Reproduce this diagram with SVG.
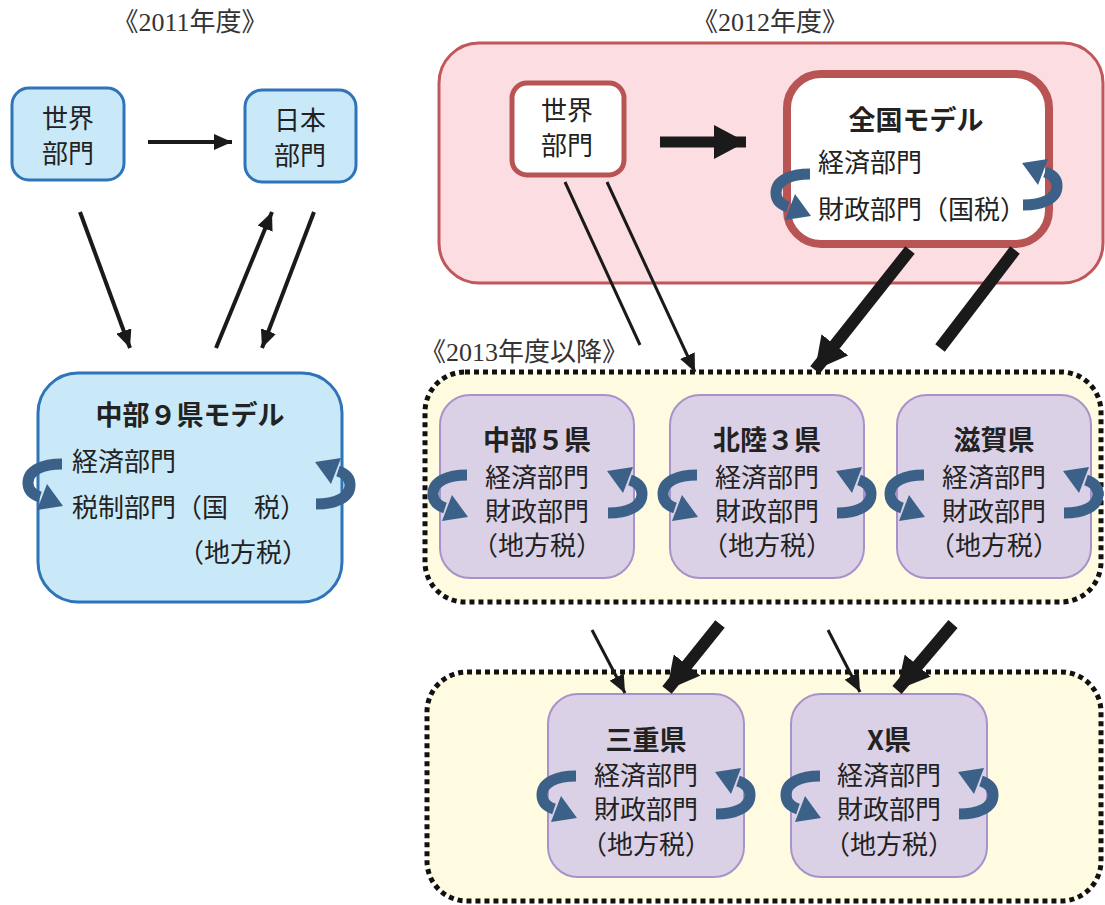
<svg xmlns="http://www.w3.org/2000/svg" xmlns:xlink="http://www.w3.org/1999/xlink" width="1105" height="905" viewBox="0 0 1105 905">
<style>
.t{font-family:"Liberation Serif","Noto Sans CJK JP",serif;font-size:26px;fill:#222}
.c{text-anchor:middle}
.b{font-family:"Noto Sans CJK JP",sans-serif;font-size:27px;font-weight:bold;fill:#222;text-anchor:middle}
.h{font-family:"Liberation Serif","Noto Sans CJK JP",serif;font-size:26px;fill:#333}
.blue{fill:#c9e9f8;stroke:#2f74b8;stroke-width:3}
.pur{fill:#dbd1e6;stroke:#a992c9;stroke-width:2}
.dot{fill:#fffbe0;stroke:#111;stroke-width:5;stroke-dasharray:5 4}
.ln{stroke:#1a1a1a;fill:none}
</style>
<defs>
<marker id="ah" markerUnits="userSpaceOnUse" markerWidth="18" markerHeight="16" refX="18" refY="8" orient="auto"><path d="M0,0 L18,8 L0,16 z" fill="#1a1a1a"/></marker>
<marker id="ahb" markerUnits="userSpaceOnUse" markerWidth="32" markerHeight="34" refX="32" refY="17" orient="auto"><path d="M0,0 L32,17 L0,34 z" fill="#1a1a1a"/></marker>
<g id="ca">
<path d="M18,-19 C-1,-19 -16,-13 -16,0 C-16,8 -10,12 -4,14" fill="none" stroke="#3c6189" stroke-width="11"/>
<polygon points="19,23 -7,27 3,1" fill="#3c6189"/>
</g>
</defs>

<g id="headers">
<text class="h c" x="190" y="31">《2011年度》</text>
<text class="h c" x="770" y="31">《2012年度》</text>
<text class="h" x="420" y="361">《2013年度以降》</text>
</g>

<g id="region2012"><rect x="439" y="43" width="664" height="240" rx="40" fill="#fcdde2" stroke="#c0575a" stroke-width="3"/></g>
<g id="region2013"><rect x="425" y="372" width="676" height="230" rx="40" class="dot"/></g>
<g id="regionLower"><rect x="427" y="672" width="674" height="229" rx="40" class="dot"/></g>

<g id="world2011"><rect x="12" y="88" width="112" height="92" rx="17" class="blue"/>
<text class="t c" x="68" y="128">世界</text><text class="t c" x="68" y="163">部門</text></g>
<g id="japan2011"><rect x="245" y="90" width="111" height="92" rx="17" class="blue"/>
<text class="t c" x="300" y="130">日本</text><text class="t c" x="300" y="165">部門</text></g>
<g id="chubu9"><rect x="38" y="373" width="304" height="229" rx="40" class="blue"/>
<text class="b" x="190" y="425">中部９県モデル</text>
<text class="t" x="72" y="471">経済部門</text>
<text class="t" x="72" y="517">税制部門（国　税）</text>
<text class="t" x="308" y="562" text-anchor="end">（地方税）</text>
<use xlink:href="#ca" x="44" y="483"/>
<use xlink:href="#ca" transform="translate(334,485) rotate(180)"/></g>

<g id="world2012"><rect x="512" y="83" width="112" height="92" rx="15" fill="#fff" stroke="#b85454" stroke-width="5"/>
<text class="t c" x="567" y="120">世界</text><text class="t c" x="567" y="155">部門</text></g>
<g id="national"><rect x="787" y="74" width="262" height="170" rx="34" fill="#fff" stroke="#b85454" stroke-width="8"/>
<text class="b" x="916" y="130">全国モデル</text>
<text class="t" x="818" y="172">経済部門</text>
<text class="t" x="818" y="219">財政部門（国税）</text>
<use xlink:href="#ca" x="792" y="193"/>
<use xlink:href="#ca" transform="translate(1041,186) rotate(180)"/></g>

<g id="chubu5"><rect x="440" y="395" width="194" height="183" rx="30" class="pur"/>
<text class="b" x="537" y="450">中部５県</text>
<text class="t c" x="537" y="487">経済部門</text><text class="t c" x="537" y="521">財政部門</text><text class="t c" x="537" y="555">（地方税）</text>
<use xlink:href="#ca" x="449" y="494"/><use xlink:href="#ca" transform="translate(626,494) rotate(180)"/></g>
<g id="hokuriku3"><rect x="670" y="395" width="194" height="183" rx="30" class="pur"/>
<text class="b" x="767" y="450">北陸３県</text>
<text class="t c" x="767" y="487">経済部門</text><text class="t c" x="767" y="521">財政部門</text><text class="t c" x="767" y="555">（地方税）</text>
<use xlink:href="#ca" x="679" y="494"/><use xlink:href="#ca" transform="translate(855,494) rotate(180)"/></g>
<g id="shiga"><rect x="897" y="395" width="194" height="183" rx="30" class="pur"/>
<text class="b" x="994" y="450">滋賀県</text>
<text class="t c" x="994" y="487">経済部門</text><text class="t c" x="994" y="521">財政部門</text><text class="t c" x="994" y="555">（地方税）</text>
<use xlink:href="#ca" x="906" y="494"/><use xlink:href="#ca" transform="translate(1082,494) rotate(180)"/></g>

<g id="mie"><rect x="548" y="694" width="196" height="183" rx="30" class="pur"/>
<text class="b" x="646" y="750">三重県</text>
<text class="t c" x="646" y="785">経済部門</text><text class="t c" x="646" y="819">財政部門</text><text class="t c" x="646" y="854">（地方税）</text>
<use xlink:href="#ca" x="558" y="795"/><use xlink:href="#ca" transform="translate(734,795) rotate(180)"/></g>
<g id="xken"><rect x="791" y="694" width="196" height="183" rx="30" class="pur"/>
<text class="b" x="889" y="750">X県</text>
<text class="t c" x="889" y="785">経済部門</text><text class="t c" x="889" y="819">財政部門</text><text class="t c" x="889" y="854">（地方税）</text>
<use xlink:href="#ca" x="802" y="795"/><use xlink:href="#ca" transform="translate(977,795) rotate(180)"/></g>

<g id="connectors">
<line class="ln" x1="148" y1="142" x2="232" y2="142" stroke-width="4" marker-end="url(#ah)"/>
<line class="ln" x1="80" y1="212" x2="130" y2="348" stroke-width="4" marker-end="url(#ah)"/>
<line class="ln" x1="216" y1="348" x2="272" y2="212" stroke-width="4" marker-end="url(#ah)"/>
<line class="ln" x1="314" y1="212" x2="262" y2="348" stroke-width="4" marker-end="url(#ah)"/>
<line class="ln" x1="660" y1="142" x2="746" y2="142" stroke-width="11" marker-end="url(#ahb)"/>
<line class="ln" x1="565" y1="182" x2="640" y2="345" stroke-width="3"/>
<line class="ln" x1="607" y1="182" x2="695" y2="372" stroke-width="3" marker-end="url(#ah)"/>
<line class="ln" x1="910" y1="250" x2="815" y2="370" stroke-width="12" marker-end="url(#ahb)"/>
<line class="ln" x1="1015" y1="250" x2="940" y2="348" stroke-width="12"/>
<line class="ln" x1="592" y1="630" x2="625" y2="693" stroke-width="3" marker-end="url(#ah)"/>
<line class="ln" x1="720" y1="624" x2="667" y2="690" stroke-width="12" marker-end="url(#ahb)"/>
<line class="ln" x1="828" y1="630" x2="860" y2="692" stroke-width="3" marker-end="url(#ah)"/>
<line class="ln" x1="953" y1="624" x2="897" y2="690" stroke-width="12" marker-end="url(#ahb)"/>
</g>
</svg>
